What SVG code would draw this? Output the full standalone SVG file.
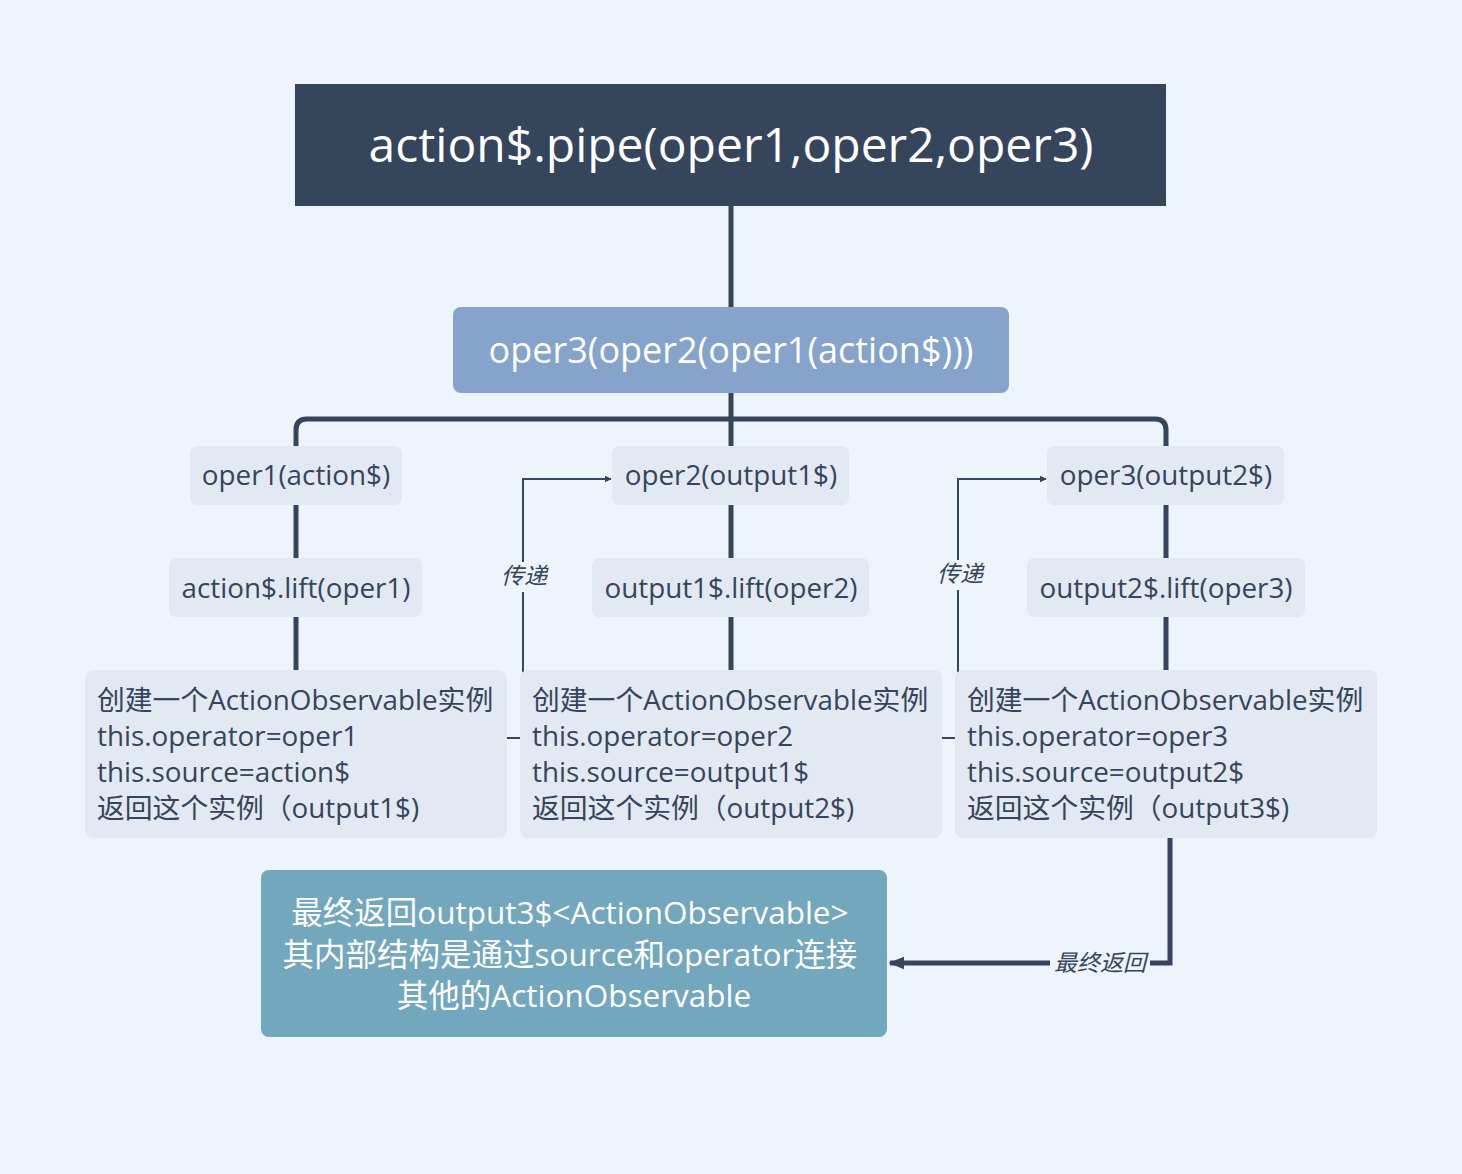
<svg xmlns="http://www.w3.org/2000/svg" width="1462" height="1174" viewBox="0 0 1462 1174">
<defs>
<style>
.t{font-family:"Open Sans","Noto Sans","Noto Sans CJK SC",sans-serif;}
.lbl{font-family:"Open Sans","Noto Sans","Noto Sans CJK SC",sans-serif;font-size:27.8px;fill:#35455C;text-anchor:middle;}
.sub{fill:#E2E9F2;}
.body{font-family:"Open Sans","Noto Sans","Noto Sans CJK SC",sans-serif;font-size:27.8px;fill:#35455C;}
.thick{stroke:#35455C;stroke-width:5;fill:none;}
.thin{stroke:#35455C;stroke-width:2;fill:none;}
.it{font-family:"Noto Sans CJK SC",sans-serif;font-style:italic;font-size:23px;fill:#35455C;text-anchor:middle;}
</style>
<marker id="ah" viewBox="0 0 10 10" refX="9" refY="5" markerWidth="7" markerHeight="7" orient="auto" markerUnits="userSpaceOnUse">
<path d="M0,0 L10,5 L0,10 z" fill="#35455C"/>
</marker>
<marker id="ah2" viewBox="0 0 10 10" refX="9" refY="5" markerWidth="16" markerHeight="16" orient="auto" markerUnits="userSpaceOnUse">
<path d="M0,1 L10,5 L0,9 z" fill="#35455C"/>
</marker>
</defs>
<rect width="1462" height="1174" fill="#EDF4FB"/>
<g id="connectors">
<path class="thick" d="M731,206 V307"/>
<path class="thick" d="M731,393 V446"/>
<path class="thick" d="M296,446 V430 Q296,419 307,419 H1155 Q1166,419 1166,430 V446"/>
<path class="thick" d="M296,505 V558 M296,617 V670"/>
<path class="thick" d="M731,505 V558 M731,617 V670"/>
<path class="thick" d="M1166,505 V558 M1166,617 V670"/>
<path class="thin" d="M507,738 H523 V592 M523,562 V479 H611" marker-end="url(#ah)"/>
<path class="thin" d="M942,738 H958 V590 M958,560 V479 H1046" marker-end="url(#ah)"/>
<path class="thick" d="M1170,838 V963 H1150 M1050,963 H890" stroke-width="4" marker-end="url(#ah2)"/>
<text class="it" x="524" y="584">传递</text>
<text class="it" x="960" y="582">传递</text>
<text class="it" x="1100" y="971">最终返回</text>
</g>
<g id="root">
<rect x="295" y="84" width="871" height="122" fill="#35455C"/>
<text class="t" x="731" y="162" font-size="48" fill="#FFFFFF" text-anchor="middle">action$.pipe(oper1,oper2,oper3)</text>
</g>
<g id="compose">
<rect x="453" y="307" width="556" height="86" rx="8" fill="#85A3CB"/>
<text class="t" x="731" y="363" font-size="36" fill="#FFFFFF" text-anchor="middle">oper3(oper2(oper1(action$)))</text>
</g>
<g id="oper1">
<rect class="sub" x="190" y="446" width="212" height="59" rx="7"/>
<text class="lbl" x="296" y="485">oper1(action$)</text>
</g>
<g id="lift1">
<rect class="sub" x="169" y="558" width="253" height="59" rx="7"/>
<text class="lbl" x="296" y="598">action$.lift(oper1)</text>
</g>
<g id="inst1">
<rect class="sub" x="85" y="670" width="422" height="168" rx="8"/>
<text class="body" x="97" y="710">创建一个ActionObservable实例</text>
<text class="body" x="97" y="746">this.operator=oper1</text>
<text class="body" x="97" y="782">this.source=action$</text>
<text class="body" x="97" y="818">返回这个实例（output1$)</text>
</g>
<g id="oper2">
<rect class="sub" x="612" y="446" width="237" height="59" rx="7"/>
<text class="lbl" x="731" y="485">oper2(output1$)</text>
</g>
<g id="lift2">
<rect class="sub" x="592" y="558" width="277" height="59" rx="7"/>
<text class="lbl" x="731" y="598">output1$.lift(oper2)</text>
</g>
<g id="inst2">
<rect class="sub" x="520" y="670" width="422" height="168" rx="8"/>
<text class="body" x="532" y="710">创建一个ActionObservable实例</text>
<text class="body" x="532" y="746">this.operator=oper2</text>
<text class="body" x="532" y="782">this.source=output1$</text>
<text class="body" x="532" y="818">返回这个实例（output2$)</text>
</g>
<g id="oper3">
<rect class="sub" x="1047" y="446" width="237" height="59" rx="7"/>
<text class="lbl" x="1166" y="485">oper3(output2$)</text>
</g>
<g id="lift3">
<rect class="sub" x="1027" y="558" width="278" height="59" rx="7"/>
<text class="lbl" x="1166" y="598">output2$.lift(oper3)</text>
</g>
<g id="inst3">
<rect class="sub" x="955" y="670" width="422" height="168" rx="8"/>
<text class="body" x="967" y="710">创建一个ActionObservable实例</text>
<text class="body" x="967" y="746">this.operator=oper3</text>
<text class="body" x="967" y="782">this.source=output2$</text>
<text class="body" x="967" y="818">返回这个实例（output3$)</text>
</g>
<g id="result">
<rect x="261" y="870" width="626" height="167" rx="8" fill="#72A7BE"/>
<text class="t" font-size="31.5" fill="#FFFFFF" text-anchor="middle">
<tspan x="574" y="924">最终返回output3$&lt;ActionObservable&gt;</tspan>
<tspan x="574" y="966">其内部结构是通过source和operator连接</tspan>
<tspan x="574" y="1007">其他的ActionObservable</tspan>
</text>
</g>
</svg>
